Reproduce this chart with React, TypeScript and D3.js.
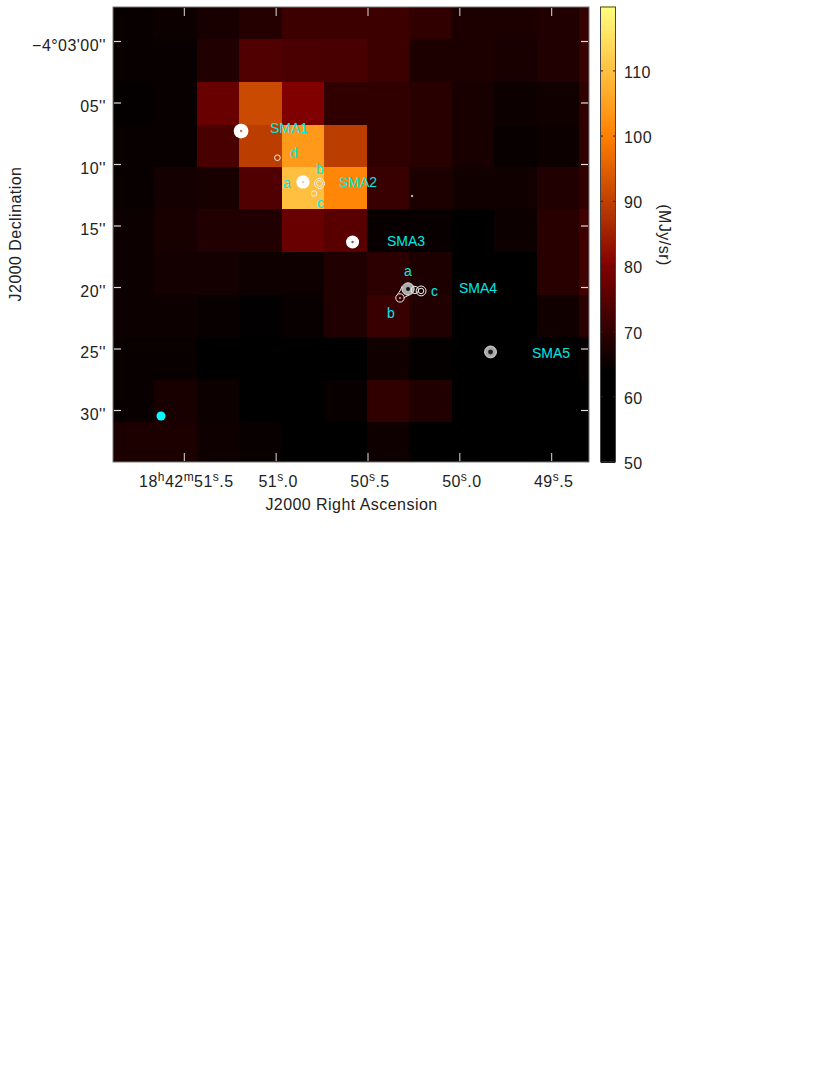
// App.tsx
import React from 'react';
import * as d3 from 'd3';

// pixel values in MJy/sr, rows run north to south, columns east to west
const row0 = [65, 65.5, 67, 68.5, 71.5, 71.5, 71.5, 70, 67.5, 67.5, 68, 70.5];
const row1 = [65, 65, 68, 74, 73.3, 73, 71.5, 67.5, 67.5, 67, 68, 71];
const row2 = [64.5, 65, 77, 91.5, 80, 70, 70, 69, 67, 65.5, 66, 70];
const row3 = [65, 65, 73, 89.5, 104, 89.5, 70, 69, 67, 65, 65.5, 70];
const row4 = [65, 66.5, 67, 74, 110, 101, 71, 67.5, 66, 66, 68, 70];
const row5 = [65.5, 67, 68, 68, 77, 75, 65, 65, 62, 65.5, 69, 72];
const row6 = [65.5, 66.5, 66.5, 65.8, 65.8, 68, 69.5, 67.5, 62, 62, 69, 72];
const row7 = [65.5, 65.5, 65, 64.2, 65, 68, 71, 68, 62, 62, 66, 69];
const row8 = [65, 65, 62, 62, 62, 62, 66, 64.5, 62, 62, 62, 64.7];
const row9 = [65, 67, 65.5, 62, 62, 65, 70, 68, 62, 62, 62, 62];
const row10 = [67.5, 67.5, 65.8, 65, 62, 62, 65.8, 62, 62, 62, 62, 62];
const grid = [row0, row1, row2, row3, row4, row5, row6, row7, row8, row9, row10];

// colour map stops of the wedge
const heatStops = [50, 64, 80, 100, 120];
const heatColors = ['#000000', '#000000', '#800000', '#ff8000', '#ffff80'];

const raTicks = [51.5, 51, 50.5, 50, 49.5];
const decTicks = [0, 5, 10, 15, 20, 25, 30];
const wedgeTicks = [50, 60, 70, 80, 90, 100, 110];

// contour blobs: ra seconds, dec arcsec below -4d03m, radius in arcsec
const solidBlobs = [
  { ra: 51.191, dec: 7.28, r: 0.6 },
  { ra: 50.854, dec: 11.42, r: 0.54 },
  { ra: 50.584, dec: 16.3, r: 0.53 },
];
const greyBlobs = [
  { ra: 50.282, dec: 20.12, r: 0.5 },
  { ra: 49.833, dec: 25.24, r: 0.48 },
];
const ringBlobs = [
  { ra: 50.993, dec: 9.45, r: 0.23 },
  { ra: 50.764, dec: 11.54, r: 0.41 },
  { ra: 50.764, dec: 11.54, r: 0.24 },
  { ra: 50.794, dec: 12.36, r: 0.22 },
  { ra: 50.326, dec: 20.85, r: 0.34 },
  { ra: 50.211, dec: 20.28, r: 0.4 },
  { ra: 50.211, dec: 20.28, r: 0.22 },
  { ra: 50.245, dec: 20.2, r: 0.3 },
  { ra: 50.26, dec: 12.56, r: 0.06 },
];
const coreDots = [
  { ra: 51.191, dec: 7.28, r: 0.1, c: '#c08060' },
  { ra: 50.854, dec: 11.42, r: 0.08, c: '#e0c0a0' },
  { ra: 50.584, dec: 16.3, r: 0.1, c: '#806060' },
  { ra: 50.282, dec: 20.12, r: 0.16, c: '#111' },
  { ra: 49.833, dec: 25.24, r: 0.2, c: '#222' },
  { ra: 50.326, dec: 20.85, r: 0.07, c: '#ddd' },
];
// neck of the lowest contour joining SMA4 a and b
const neckLeft = [
  { ra: 50.315, dec: 19.9 },
  { ra: 50.325, dec: 20.3 },
  { ra: 50.34, dec: 20.55 },
];
const neckRight = [
  { ra: 50.275, dec: 20.6 },
  { ra: 50.295, dec: 20.75 },
  { ra: 50.305, dec: 20.85 },
];
const labels = [
  { t: 'SMA1', ra: 51.034, dec: 7.44 },
  { t: 'd', ra: 50.925, dec: 9.47 },
  { t: 'b', ra: 50.783, dec: 10.77 },
  { t: 'a', ra: 50.963, dec: 11.91 },
  { t: 'SMA2', ra: 50.658, dec: 11.83 },
  { t: 'c', ra: 50.778, dec: 13.54 },
  { t: 'SMA3', ra: 50.397, dec: 16.63 },
  { t: 'a', ra: 50.304, dec: 19.07 },
  { t: 'c', ra: 50.157, dec: 20.69 },
  { t: 'SMA4', ra: 50.005, dec: 20.45 },
  { t: 'b', ra: 50.397, dec: 22.48 },
  { t: 'SMA5', ra: 49.607, dec: 25.73 },
];

const x = d3.scaleLinear().domain([51.5, 49.5]).range([184.3, 551.7]);
const y = d3.scaleLinear().domain([5, 30]).range([103, 410.5]);
const heat = d3.scaleLinear<string>().domain(heatStops).range(heatColors).clamp(true);
const wedgeY = d3.scaleLinear().domain([50, 119.8]).range([462, 7]);
const neckLine = d3.line<{ ra: number; dec: number }>().x((d) => x(d.ra)).y((d) => y(d.dec)).curve(d3.curveBasis);

const colEdges = [113, 154, 197, 239, 282, 324, 367, 409, 452, 494, 537, 579, 589];
const rowEdges = [7, 39, 82, 125, 167, 209, 252, 295, 337, 380, 422, 462];
const wedgeSteps = d3.range(50, 119.8, 0.25);

const axisFont = { fontFamily: 'Liberation Sans', fontSize: 16, fill: '#222', letterSpacing: 0.45 };
const supSize = 12;
const pxPerArcsec = 12.3;

function raLabel(v: number) {
  const s = v.toFixed(1).split('.');
  return (
    <text x={x(v) + 2} y={486.5} textAnchor="middle" {...axisFont}>
      {v === 51.5 && (
        <>
          18<tspan dy={-6} fontSize={supSize}>h</tspan>
          <tspan dy={6}>42</tspan>
          <tspan dy={-6} fontSize={supSize}>m</tspan>
        </>
      )}
      <tspan dy={v === 51.5 ? 6 : 0}>{s[0]}</tspan>
      <tspan dy={-6} fontSize={supSize}>s</tspan>
      <tspan dy={6}>.{s[1]}</tspan>
    </text>
  );
}

export default function App() {
  return (
    <svg width={830} height={1075} style={{ position: 'absolute', left: 0, top: 0, background: '#fff' }}>
      <g shapeRendering="crispEdges">
        {grid.map((row, r) =>
          row.map((v, c) => (
            <rect
              key={`${r}-${c}`}
              x={colEdges[c]}
              y={rowEdges[r]}
              width={colEdges[c + 1] - colEdges[c]}
              height={rowEdges[r + 1] - rowEdges[r]}
              fill={heat(v)}
            />
          )),
        )}
      </g>
      <rect x={113} y={7} width={476} height={455} fill="none" stroke="#777" strokeWidth={1} />

      {raTicks.map((v) => (
        <g key={v} stroke="#ddd" strokeWidth={1}>
          <line x1={x(v)} x2={x(v)} y1={8} y2={16} />
          <line x1={x(v)} x2={x(v)} y1={453} y2={461} />
        </g>
      ))}
      {decTicks.map((v) => (
        <g key={v} stroke="#ddd" strokeWidth={1.2}>
          <line x1={114} x2={121} y1={y(v)} y2={y(v)} />
          <line x1={581} x2={588} y1={y(v)} y2={y(v)} />
        </g>
      ))}

      {solidBlobs.map((b, i) => (
        <circle key={i} cx={x(b.ra)} cy={y(b.dec)} r={b.r * pxPerArcsec} fill="#fff" />
      ))}
      {greyBlobs.map((b, i) => (
        <circle key={i} cx={x(b.ra)} cy={y(b.dec)} r={b.r * pxPerArcsec} fill="#aaa" stroke="#ddd" strokeWidth={1} />
      ))}
      {ringBlobs.map((b, i) => (
        <circle key={i} cx={x(b.ra)} cy={y(b.dec)} r={b.r * pxPerArcsec} fill="none" stroke="#eee" strokeWidth={1} />
      ))}
      {coreDots.map((b, i) => (
        <circle key={i} cx={x(b.ra)} cy={y(b.dec)} r={b.r * pxPerArcsec} fill={b.c} />
      ))}
      <path d={neckLine(neckLeft) ?? ''} fill="none" stroke="#eee" strokeWidth={1} />
      <path d={neckLine(neckRight) ?? ''} fill="none" stroke="#eee" strokeWidth={1} />
      <circle cx={161} cy={416} r={4.5} fill="#00ffff" />

      {labels.map((l, i) => (
        <text key={i} x={x(l.ra)} y={y(l.dec)} fontFamily="Liberation Sans" fontSize={14} fill="#00e8e8">
          {l.t}
        </text>
      ))}

      {raTicks.map((v) => (
        <React.Fragment key={v}>{raLabel(v)}</React.Fragment>
      ))}
      {decTicks.map((v) => (
        <text key={v} x={106} y={y(v) + 9} textAnchor="end" {...axisFont}>
          {v === 0 ? '\u22124\u00b003\'00\'\'' : `${String(v).padStart(2, '0')}''`}
        </text>
      ))}
      <text x={351.5} y={510} textAnchor="middle" {...axisFont}>J2000 Right Ascension</text>
      <text transform="translate(21,234) rotate(-90)" textAnchor="middle" {...axisFont}>J2000 Declination</text>

      <g shapeRendering="crispEdges">
        {wedgeSteps.map((v) => (
          <rect key={v} x={601} width={14} y={wedgeY(v + 0.25)} height={wedgeY(v) - wedgeY(v + 0.25) + 1} fill={heat(v)} />
        ))}
      </g>
      <rect x={600.5} y={7} width={15} height={455} fill="none" stroke="#444" strokeWidth={1} />
      {wedgeTicks.map((v) => (
        <g key={v}>
          <line x1={601} x2={603} y1={wedgeY(v)} y2={wedgeY(v)} stroke="#222" />
          <line x1={613} x2={615} y1={wedgeY(v)} y2={wedgeY(v)} stroke="#222" />
          <text x={624} y={wedgeY(v) + 7} {...axisFont}>{v}</text>
        </g>
      ))}
      <text transform="translate(659,235) rotate(90)" textAnchor="middle" {...axisFont}>(MJy/sr)</text>
    </svg>
  );
}
